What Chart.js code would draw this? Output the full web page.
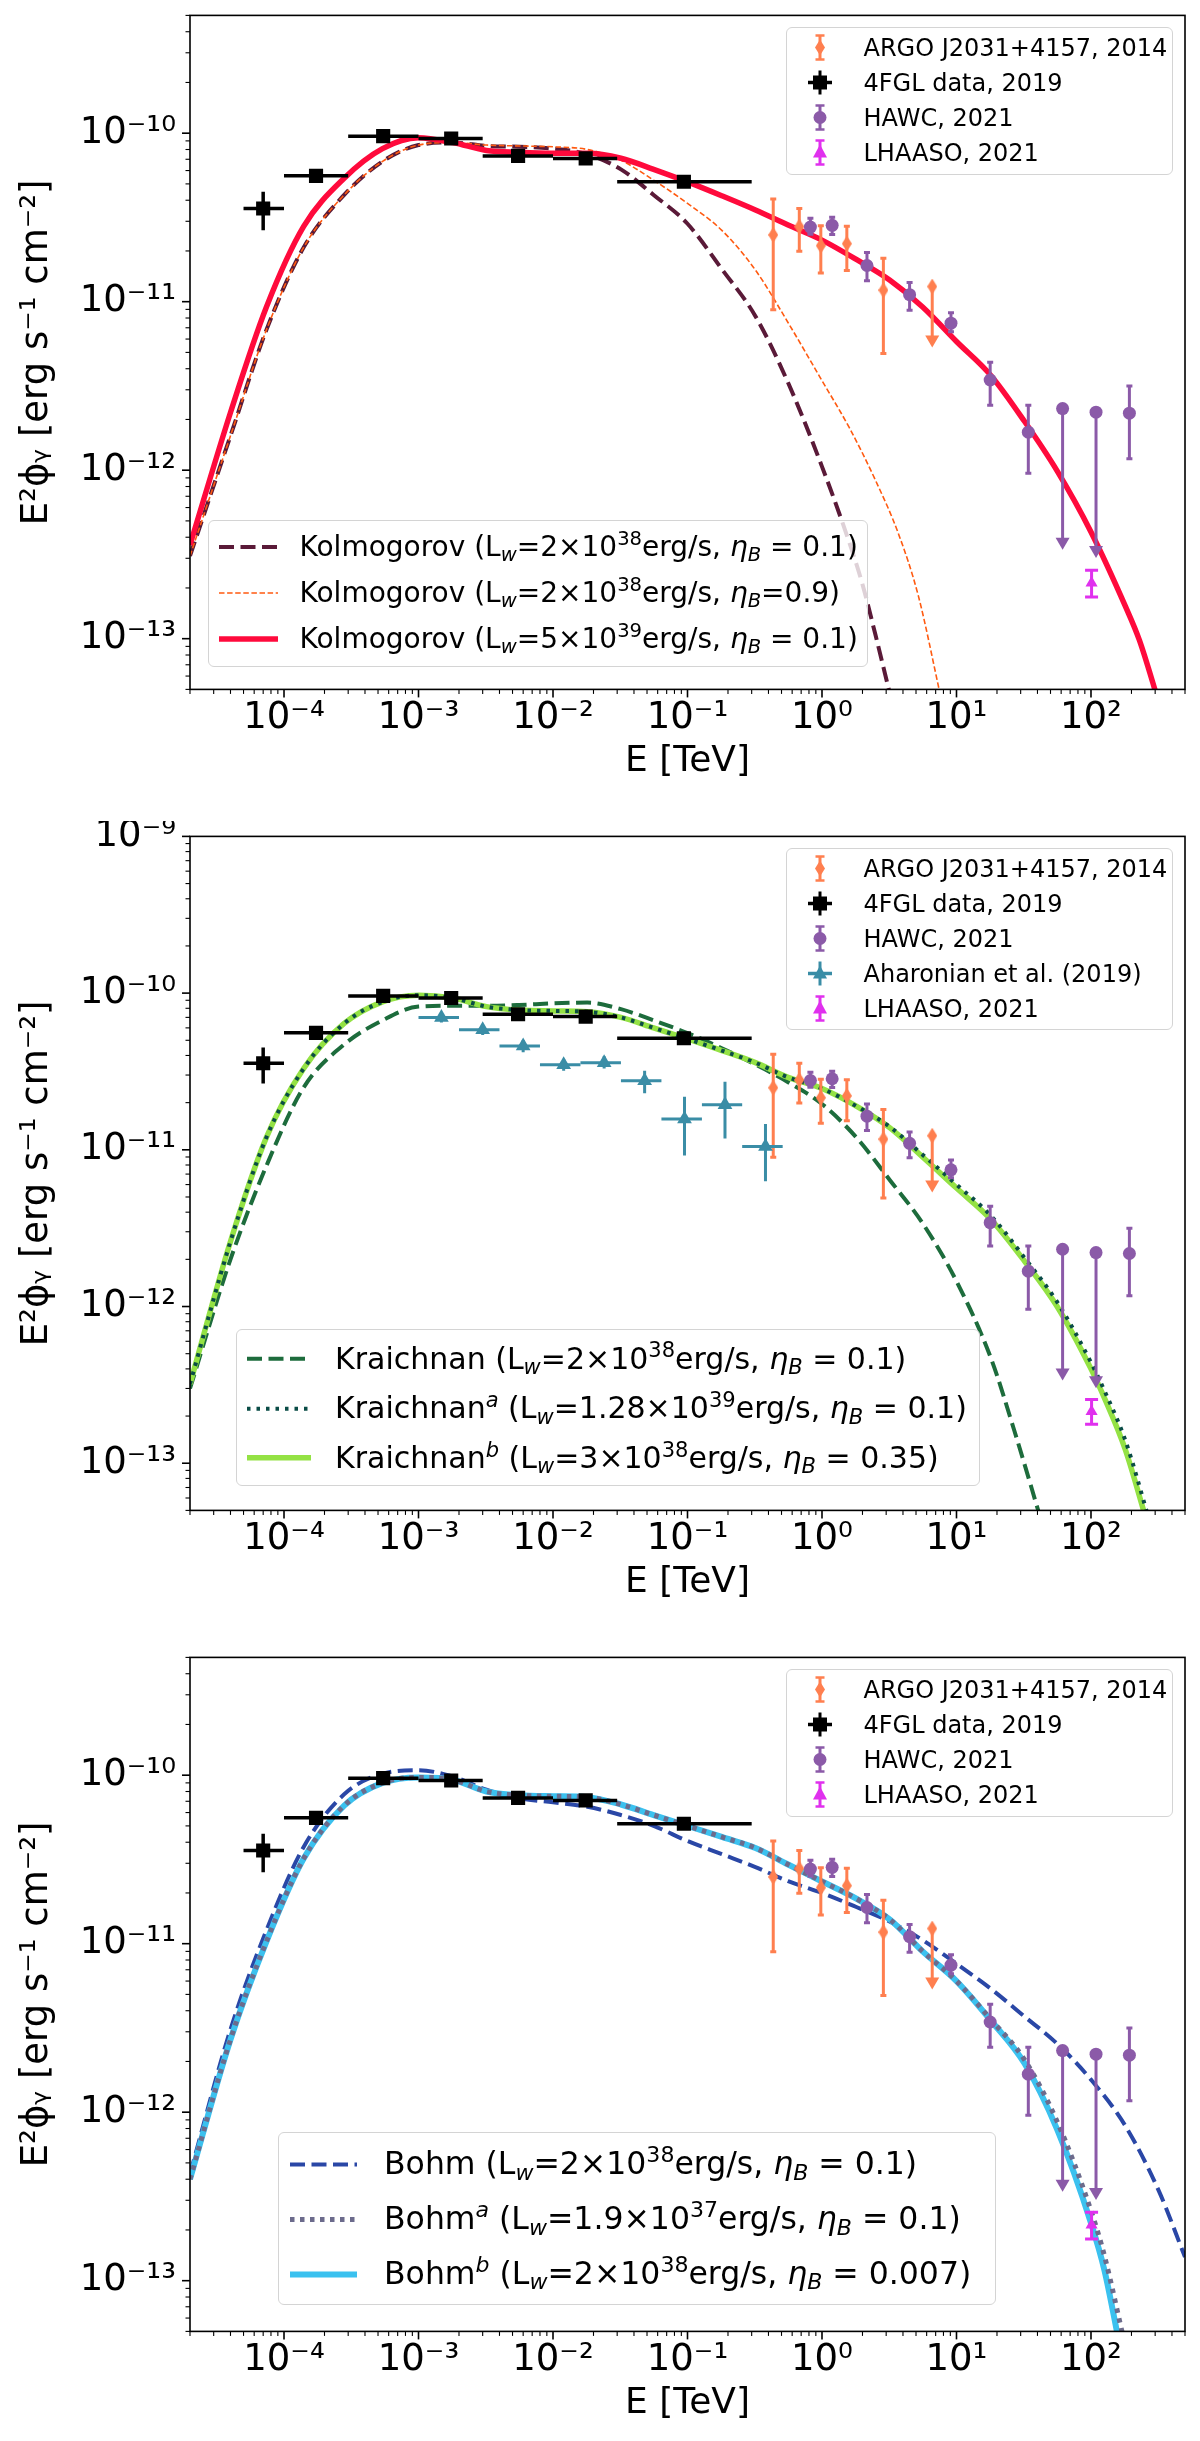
<!DOCTYPE html>
<html>
<head>
<meta charset="utf-8">
<script src="https://cdn.jsdelivr.net/npm/chart.js@4.4.1/dist/chart.umd.min.js"></script>
<style>
body { margin: 0; background: #fff; }
#fig { position: relative; width: 1200px; height: 2441px; overflow: hidden; background: #fff;
       font-family: 'DejaVu Sans', sans-serif; color: #000; }
.panel { position: absolute; left: 0; width: 1200px; height: 821px; }
.panel canvas { position: absolute; left: 0; top: 0; }
.leg { position: absolute; box-sizing: border-box; border: 1.5px solid #d4d4d4; border-radius: 6px;
       background: rgba(255,255,255,0.8); }
.row { position: absolute; left: 0; right: 0; }
.row svg { position: absolute; left: 0; top: 0; }
.row span { position: absolute; top: 50%; transform: translateY(-50%); white-space: nowrap; line-height: 1; }
sup, sub { font-size: 0.7em; line-height: 0; position: relative; vertical-align: baseline; }
sup { top: -0.55em; }
sub { top: 0.25em; }
</style>
</head>
<body>
<div id="fig">
  <div class="panel" id="p1" style="top:0px"><canvas id="c1" width="1200" height="821"></canvas></div>
  <div class="panel" id="p2" style="top:821px"><canvas id="c2" width="1200" height="821"></canvas></div>
  <div class="panel" id="p3" style="top:1642px"><canvas id="c3" width="1200" height="821"></canvas></div>
</div>
<script>
// ---- measured points (E in TeV, E^2 phi in erg s^-1 cm^-2) ----
const fglE   = [7.0e-5, 1.73e-4, 5.46e-4, 1.75e-3, 5.5e-3, 1.75e-2, 9.4e-2];
const fglElo = [5.0e-5, 1.0e-4, 3.0e-4, 1.0e-3, 3.0e-3, 1.0e-2, 3.0e-2];
const fglEhi = [1.0e-4, 3.0e-4, 1.0e-3, 3.0e-3, 1.0e-2, 3.0e-2, 3.0e-1];
const fglF   = [3.57e-11, 5.58e-11, 9.6e-11, 9.3e-11, 7.33e-11, 7.08e-11, 5.15e-11];
const fglFlo = [2.65e-11, 5.3e-11, 9.2e-11, 8.9e-11, 7.0e-11, 6.75e-11, 4.9e-11];
const fglFhi = [4.49e-11, 5.9e-11, 1.0e-10, 9.7e-11, 7.7e-11, 7.4e-11, 5.4e-11];

const argoE   = [0.434, 0.678, 0.98, 1.53, 2.86, 6.6];
const argoF   = [2.49e-11, 2.79e-11, 2.15e-11, 2.21e-11, 1.17e-11, 1.23e-11];
const argoFhi = [4.07e-11, 3.57e-11, 2.82e-11, 2.8e-11, 1.81e-11, 1.23e-11];
const argoFlo = [8.96e-12, 1.99e-11, 1.48e-11, 1.53e-11, 4.92e-12, 5.5e-12];
const argoUL  = [false, false, false, false, false, true];

const hawcE   = [0.82, 1.19, 2.16, 4.48, 9.1, 17.8, 34.2, 61.5, 109, 193];
const hawcF   = [2.77e-11, 2.84e-11, 1.64e-11, 1.1e-11, 7.45e-12, 3.43e-12, 1.68e-12, 2.32e-12, 2.21e-12, 2.18e-12];
const hawcFhi = [3.13e-11, 3.17e-11, 1.96e-11, 1.3e-11, 8.6e-12, 4.37e-12, 2.43e-12, 2.32e-12, 2.21e-12, 3.16e-12];
const hawcFlo = [2.51e-11, 2.5e-11, 1.33e-11, 8.9e-12, 6.64e-12, 2.43e-12, 9.6e-13, 3.47e-13, 3.1e-13, 1.17e-12];
const hawcUL  = [false, false, false, false, false, false, false, true, true, false];

const lhaE   = [101];
const lhaF   = [2.14e-13];
const lhaFhi = [2.55e-13];
const lhaFlo = [1.77e-13];

const ahaE   = [1.48e-3, 3.0e-3, 6.0e-3, 1.2e-2, 2.4e-2, 4.8e-2, 9.5e-2, 0.19, 0.38];
const ahaElo = [1.0e-3, 2.0e-3, 4.0e-3, 8.0e-3, 1.6e-2, 3.2e-2, 6.4e-2, 0.128, 0.255];
const ahaEhi = [2.0e-3, 4.0e-3, 8.0e-3, 1.6e-2, 3.2e-2, 6.4e-2, 0.128, 0.255, 0.51];
const ahaF   = [7.0e-11, 5.84e-11, 4.6e-11, 3.49e-11, 3.6e-11, 2.76e-11, 1.57e-11, 1.94e-11, 1.05e-11];
const ahaFhi = [7.5e-11, 6.3e-11, 5.0e-11, 3.8e-11, 3.95e-11, 3.2e-11, 2.18e-11, 2.72e-11, 1.46e-11];
const ahaFlo = [6.5e-11, 5.4e-11, 4.2e-11, 3.2e-11, 3.3e-11, 2.3e-11, 9.2e-12, 1.18e-11, 6.3e-12];

// ---- model curves ----
// Kolmogorov panel
const kolHiE = [2e-5, 4e-5, 7.4e-5, 1.4e-4, 2.8e-4, 5.4e-4, 1e-3, 1.8e-3, 3.2e-3, 5.6e-3, 1e-2, 1.8e-2, 3.2e-2, 5.6e-2,
                0.1, 0.18, 0.32, 0.56, 1, 1.8, 3.2, 5.6, 10, 18, 32, 56, 100, 180, 229, 316];
const kolHiF = [3.6e-13, 2.2e-12, 9.3e-12, 2.8e-11, 5.4e-11, 8.1e-11, 9.4e-11, 8.8e-11, 7.9e-11, 7.7e-11, 7.6e-11, 7.6e-11, 7.1e-11, 6.1e-11,
                5.14e-11, 4.25e-11, 3.5e-11, 2.85e-11, 2.32e-11, 1.78e-11, 1.34e-11, 9.3e-12, 5.8e-12, 3.65e-12, 1.95e-12, 9.9e-13, 4.3e-13, 1.56e-13, 9.8e-14, 4.3e-14];
const kolE = [2e-5, 4e-5, 7.4e-5, 1.4e-4, 2.8e-4, 5.4e-4, 1e-3, 1.8e-3, 3.2e-3, 5.6e-3, 1e-2, 1.8e-2, 3.2e-2, 5.6e-2,
              0.1, 0.18, 0.32, 0.56, 1, 1.6, 2.0, 2.5, 3.2];
const kolF = [3.1e-13, 1.6e-12, 6.8e-12, 2.1e-11, 4.3e-11, 6.8e-11, 8.5e-11, 8.8e-11, 8.4e-11, 8.3e-11, 8.1e-11, 7.5e-11, 6.1e-11, 4.3e-11,
              2.9e-11, 1.56e-11, 8.2e-12, 3.3e-12, 1.05e-12, 3.7e-13, 2.1e-13, 1.05e-13, 4.7e-14];
const kolEtaE = [2e-5, 4e-5, 7.4e-5, 1.4e-4, 2.8e-4, 5.4e-4, 1e-3, 1.8e-3, 3.2e-3, 5.6e-3, 1e-2, 1.8e-2, 3.2e-2, 5.6e-2,
                 0.1, 0.18, 0.32, 0.56, 1, 1.6, 2.5, 3.7, 5.2, 7.6];
const kolEtaF = [3.1e-13, 1.6e-12, 6.8e-12, 2.1e-11, 4.3e-11, 6.8e-11, 8.5e-11, 8.8e-11, 8.5e-11, 8.4e-11, 8.3e-11, 8.0e-11, 6.9e-11, 5.26e-11,
                 3.83e-11, 2.65e-11, 1.54e-11, 7.5e-12, 3.4e-12, 1.78e-12, 8.7e-13, 4.2e-13, 1.8e-13, 4.6e-14];

// Kraichnan panel
const kraE = [2e-5, 4e-5, 7.4e-5, 1.4e-4, 2.8e-4, 5.4e-4, 1e-3, 1.8e-3, 3.2e-3, 5.6e-3, 1e-2, 1.8e-2, 3.2e-2, 5.6e-2,
              0.1, 0.18, 0.32, 0.56, 1, 1.8, 3.2, 5.6, 10, 18, 27, 42];
const kraF = [3.0e-13, 2.0e-12, 7.9e-12, 2.5e-11, 4.7e-11, 6.7e-11, 8.2e-11, 8.3e-11, 8.3e-11, 8.4e-11, 8.6e-11, 8.7e-11, 7.9e-11, 6.7e-11,
              5.56e-11, 4.45e-11, 3.5e-11, 2.7e-11, 1.96e-11, 1.2e-11, 6.4e-12, 3.4e-12, 1.45e-12, 4.7e-13, 1.6e-13, 4.5e-14];
const kraAE = [2e-5, 4e-5, 7.4e-5, 1.4e-4, 2.8e-4, 5.4e-4, 1e-3, 1.8e-3, 3.2e-3, 5.6e-3, 1e-2, 1.8e-2, 3.2e-2, 5.6e-2,
               0.1, 0.18, 0.32, 0.56, 1, 1.8, 3.2, 5.6, 10, 18, 32, 56, 100, 126, 180, 270];
const kraAF = [3.2e-13, 2.6e-12, 1.2e-11, 3.3e-11, 6.4e-11, 8.8e-11, 9.7e-11, 9.3e-11, 8.2e-11, 7.8e-11, 7.7e-11, 7.6e-11, 7.0e-11, 6.0e-11,
               5.1e-11, 4.3e-11, 3.6e-11, 2.9e-11, 2.46e-11, 1.9e-11, 1.4e-11, 9.3e-12, 6.0e-12, 3.8e-12, 2.05e-12, 1.07e-12, 4.4e-13, 2.9e-13, 1.4e-13, 4.4e-14];
const kraBE = [2e-5, 4e-5, 7.4e-5, 1.4e-4, 2.8e-4, 5.4e-4, 1e-3, 1.8e-3, 3.2e-3, 5.6e-3, 1e-2, 1.8e-2, 3.2e-2, 5.6e-2,
               0.1, 0.18, 0.32, 0.56, 1, 1.8, 3.2, 5.6, 10, 18, 32, 56, 100, 126, 180, 255];
const kraBF = [3.2e-13, 2.6e-12, 1.2e-11, 3.3e-11, 6.4e-11, 8.8e-11, 9.7e-11, 9.3e-11, 8.2e-11, 7.8e-11, 7.7e-11, 7.6e-11, 7.0e-11, 6.0e-11,
               5.1e-11, 4.3e-11, 3.6e-11, 2.9e-11, 2.46e-11, 1.9e-11, 1.38e-11, 9.0e-12, 5.7e-12, 3.6e-12, 1.95e-12, 1.0e-12, 4.0e-13, 2.6e-13, 1.22e-13, 4.5e-14];

// Bohm panel
const bohmE = [2e-5, 4e-5, 7.4e-5, 1.4e-4, 2.8e-4, 5.4e-4, 1e-3, 1.8e-3, 3.2e-3, 5.6e-3, 1e-2, 1.8e-2, 3.2e-2, 5.6e-2,
               0.1, 0.18, 0.32, 0.56, 1, 1.8, 3.2, 5.6, 10, 18, 32, 56, 100, 180, 320, 500];
const bohmF = [4.3e-13, 3.1e-12, 1.2e-11, 3.75e-11, 7.7e-11, 1.02e-10, 1.07e-10, 9.8e-11, 8.2e-11, 7.3e-11, 6.9e-11, 6.5e-11, 5.8e-11, 5.0e-11,
               4.07e-11, 3.4e-11, 2.85e-11, 2.35e-11, 2.0e-11, 1.65e-11, 1.35e-11, 1.05e-11, 7.6e-12, 5.4e-12, 3.7e-12, 2.55e-12, 1.56e-12, 8.3e-13, 3.4e-13, 1.38e-13];
const bohmAE = [2e-5, 4e-5, 7.4e-5, 1.4e-4, 2.8e-4, 5.4e-4, 1e-3, 1.8e-3, 3.2e-3, 5.6e-3, 1e-2, 1.8e-2, 3.2e-2, 5.6e-2,
                0.1, 0.18, 0.32, 0.56, 1, 1.8, 3.2, 5.6, 10, 18, 32, 56, 100, 126, 175];
const bohmAF = [4.0e-13, 2.7e-12, 1.03e-11, 3.2e-11, 6.6e-11, 9.0e-11, 9.7e-11, 9.4e-11, 8.0e-11, 7.6e-11, 7.5e-11, 7.4e-11, 6.7e-11, 5.8e-11,
                5.0e-11, 4.3e-11, 3.7e-11, 2.95e-11, 2.34e-11, 1.85e-11, 1.39e-11, 9.0e-12, 6.0e-12, 3.55e-12, 2.05e-12, 8.8e-13, 2.6e-13, 1.4e-13, 4.5e-14];
const bohmBE = [2e-5, 4e-5, 7.4e-5, 1.4e-4, 2.8e-4, 5.4e-4, 1e-3, 1.8e-3, 3.2e-3, 5.6e-3, 1e-2, 1.8e-2, 3.2e-2, 5.6e-2,
                0.1, 0.18, 0.32, 0.56, 1, 1.8, 3.2, 5.6, 10, 18, 32, 56, 100, 126, 160];
const bohmBF = [4.0e-13, 2.7e-12, 1.03e-11, 3.2e-11, 6.6e-11, 9.0e-11, 9.7e-11, 9.4e-11, 8.0e-11, 7.6e-11, 7.5e-11, 7.4e-11, 6.7e-11, 5.8e-11,
                5.0e-11, 4.3e-11, 3.7e-11, 2.95e-11, 2.34e-11, 1.85e-11, 1.39e-11, 9.0e-12, 6.0e-12, 3.5e-12, 1.95e-12, 7.9e-13, 2.2e-13, 1.15e-13, 4.5e-14];

// axis ranges
const xRange = [2e-5, 500];
const yMin = 5e-14;
const yMaxTop = 5e-10, yMaxMid = 1e-9;

const C = {
  argo: '#ff7f4f', fgl: '#000000', hawc: '#8b5aa8', lha: '#e030ee', aha: '#3a8da6',
  red: '#ff0a3c', maroon: '#5a1a38', orange: '#ff5a10',
  dgreen: '#1d6c3c', teal: '#0a4c46', lgreen: '#94e244',
  blue: '#2a47a6', gray: '#6c6b8c', cyan: '#3bc1ef'
};

Chart.defaults.font.family = "'DejaVu Sans', sans-serif";
Chart.defaults.color = '#000';

const SUP = {'-': '\u207B', '0': '\u2070', '1': '\u00B9', '2': '\u00B2', '3': '\u00B3', '4': '\u2074',
             '5': '\u2075', '6': '\u2076', '7': '\u2077', '8': '\u2078', '9': '\u2079'};

function decadeLabel(v) {
  const p = Math.log10(v), r = Math.round(p);
  if (Math.abs(p - r) > 1e-6) return '';
  return '10' + String(r).split('').map(c => SUP[c]).join('');
}

// log ticks: 1..9 per decade, decades are major
function logTicks(scale) {
  const ticks = [];
  const lo = Math.floor(Math.log10(scale.min)), hi = Math.ceil(Math.log10(scale.max));
  for (let d = lo; d <= hi; d++) {
    for (let m = 1; m <= 9; m++) {
      const v = m * Math.pow(10, d);
      if (v >= scale.min * 0.999 && v <= scale.max * 1.001) ticks.push({value: v, major: m === 1});
    }
  }
  scale.ticks = ticks;
}

function pts(E, F) { return E.map((e, i) => ({x: e, y: F[i]})); }

// error bars, drawn under each dataset's markers
const errorBars = {
  id: 'errorBars',
  beforeDatasetDraw(chart, args) {
    const ds = chart.data.datasets[args.index];
    const e = ds.err;
    if (!e) return;
    const ctx = chart.ctx, xs = chart.scales.x, ys = chart.scales.y;
    ctx.save();
    ctx.strokeStyle = e.color;
    ctx.fillStyle = e.color;
    ctx.lineWidth = e.lw;
    ds.data.forEach((p, i) => {
      const px = xs.getPixelForValue(p.x), py = ys.getPixelForValue(p.y);
      const ul = e.ul && e.ul[i];
      const yl = ys.getPixelForValue(e.lo[i]);
      const yh = ys.getPixelForValue(e.hi[i]);
      ctx.beginPath();
      if (e.xlo) {
        ctx.moveTo(xs.getPixelForValue(e.xlo[i]), py);
        ctx.lineTo(xs.getPixelForValue(e.xhi[i]), py);
      }
      ctx.moveTo(px, yh);
      ctx.lineTo(px, ul ? yl - 6 : yl);
      if (e.cap && !ul) {
        ctx.moveTo(px - e.cap, yh); ctx.lineTo(px + e.cap, yh);
        ctx.moveTo(px - e.cap, yl); ctx.lineTo(px + e.cap, yl);
      }
      ctx.stroke();
      if (ul) {
        ctx.beginPath();
        ctx.moveTo(px - 7, yl - 10);
        ctx.lineTo(px + 7, yl - 10);
        ctx.lineTo(px, yl + 2);
        ctx.closePath();
        ctx.fill();
      }
    });
    ctx.restore();
  }
};

// axes frame + outward tick marks like matplotlib
const frame = {
  id: 'frame',
  afterDraw(chart) {
    const {ctx, chartArea: a, scales: {x, y}} = chart;
    ctx.save();
    ctx.strokeStyle = '#000';
    ctx.lineWidth = 1.6;
    ctx.strokeRect(a.left, a.top, a.right - a.left, a.bottom - a.top);
    x.ticks.forEach(t => {
      const px = x.getPixelForValue(t.value);
      ctx.lineWidth = t.major ? 1.6 : 1.1;
      ctx.beginPath(); ctx.moveTo(px, a.bottom); ctx.lineTo(px, a.bottom + (t.major ? 8 : 4.5)); ctx.stroke();
    });
    y.ticks.forEach(t => {
      const py = y.getPixelForValue(t.value);
      ctx.lineWidth = t.major ? 1.6 : 1.1;
      ctx.beginPath(); ctx.moveTo(a.left, py); ctx.lineTo(a.left - (t.major ? 8 : 4.5), py); ctx.stroke();
    });
    ctx.restore();
  }
};

function diamondImg(color, w, h) {
  const c = document.createElement('canvas');
  c.width = w; c.height = h;
  const g = c.getContext('2d');
  g.fillStyle = color;
  g.beginPath();
  g.moveTo(w / 2, 0); g.lineTo(w, h / 2); g.lineTo(w / 2, h); g.lineTo(0, h / 2);
  g.closePath(); g.fill();
  return c;
}

function dataSets(withAha) {
  const sets = [];
  sets.push({data: pts(lhaE, lhaF), pointStyle: 'triangle', pointRadius: 7, pointBorderWidth: 0,
             pointBackgroundColor: C.lha, order: 0,
             err: {lo: lhaFlo, hi: lhaFhi, cap: 6.5, lw: 3, color: C.lha}});
  sets.push({data: pts(hawcE, hawcF), pointStyle: 'circle', pointRadius: 6.5, pointBorderWidth: 0,
             pointBackgroundColor: C.hawc, order: 0,
             err: {lo: hawcFlo, hi: hawcFhi, ul: hawcUL, cap: 3, lw: 3, color: C.hawc}});
  if (withAha) {
    sets.push({data: pts(ahaE, ahaF), pointStyle: 'triangle', pointRadius: 8.5, pointBorderWidth: 0,
               pointBackgroundColor: C.aha, order: 0,
               err: {lo: ahaFlo, hi: ahaFhi, xlo: ahaElo, xhi: ahaEhi, cap: 0, lw: 3, color: C.aha}});
  }
  sets.push({data: pts(fglE, fglF), pointStyle: 'rect', pointRadius: 10, pointBorderWidth: 0,
             pointBackgroundColor: C.fgl, order: 0,
             err: {lo: fglFlo, hi: fglFhi, xlo: fglElo, xhi: fglEhi, cap: 0, lw: 3.5, color: C.fgl}});
  sets.push({data: pts(argoE, argoF), pointStyle: diamondImg(C.argo, 10, 16), pointRadius: 8, pointBorderWidth: 0,
             order: 0,
             err: {lo: argoFlo, hi: argoFhi, ul: argoUL, cap: 3, lw: 3, color: C.argo}});
  return sets;
}

function curve(E, F, color, width, dash) {
  return {data: pts(E, F), showLine: true, pointRadius: 0, borderColor: color, borderWidth: width,
          borderDash: dash || [], borderCapStyle: 'butt', cubicInterpolationMode: 'monotone',
          clip: 0, fill: false, order: 1};
}

function makeChart(id, yMax, sets) {
  return new Chart(document.getElementById(id), {
    type: 'scatter',
    data: {datasets: sets},
    options: {
      responsive: false, animation: false, devicePixelRatio: 1, events: [],
      layout: {padding: {top: 15.4, right: 15, bottom: 11.6, left: 0}},
      plugins: {legend: {display: false}, tooltip: {enabled: false}},
      scales: {
        x: {
          type: 'logarithmic', position: 'bottom', min: xRange[0], max: xRange[1],
          afterBuildTicks: logTicks,
          afterFit: s => { s.height = 120; s.paddingLeft = 0; s.paddingRight = 0; },
          grid: {display: false, drawTicks: false}, border: {display: false},
          ticks: {autoSkip: false, maxRotation: 0, minRotation: 0, padding: 7, color: '#000',
                  font: {size: 37}, callback: v => decadeLabel(v)},
          title: {display: true, text: 'E [TeV]', color: '#000', font: {size: 36},
                  padding: {top: 0, bottom: 26}}
        },
        y: {
          type: 'logarithmic', position: 'left', min: yMin, max: yMax,
          afterBuildTicks: logTicks,
          afterFit: s => { s.width = 190; s.paddingTop = 0; s.paddingBottom = 0; },
          grid: {display: false, drawTicks: false}, border: {display: false},
          ticks: {autoSkip: false, padding: 14, color: '#000', font: {size: 37},
                  callback: v => decadeLabel(v)},
          title: {display: true, text: 'E\u00B2\u03D5\u1D67 [erg s\u207B\u00B9 cm\u207B\u00B2]', color: '#000',
                  font: {size: 37}, padding: {top: 15, bottom: 0}}
        }
      }
    },
    plugins: [errorBars, frame]
  });
}

// ---- legends (HTML overlays) ----
function errSym(color, shape, cross) {
  return cy => {
    let s = `<line x1="33" y1="${cy - 12}" x2="33" y2="${cy + 12}" stroke="${color}" stroke-width="3"/>`;
    if (cross) s += `<line x1="21" y1="${cy}" x2="45" y2="${cy}" stroke="${color}" stroke-width="3.5"/>`;
    else s += `<line x1="28.5" y1="${cy - 12}" x2="37.5" y2="${cy - 12}" stroke="${color}" stroke-width="2.5"/>` +
              `<line x1="28.5" y1="${cy + 12}" x2="37.5" y2="${cy + 12}" stroke="${color}" stroke-width="2.5"/>`;
    if (shape === 'diamond') s += `<polygon points="33,${cy - 8} 38,${cy} 33,${cy + 8} 28,${cy}" fill="${color}"/>`;
    if (shape === 'square') s += `<rect x="26" y="${cy - 7}" width="14" height="14" fill="${color}"/>`;
    if (shape === 'circle') s += `<circle cx="33" cy="${cy}" r="6.5" fill="${color}"/>`;
    if (shape === 'triangle') s += `<polygon points="33,${cy - 8} 40,${cy + 5} 26,${cy + 5}" fill="${color}"/>`;
    return s;
  };
}

function lineSym(x1, x2, color, width, dash) {
  return cy => `<line x1="${x1}" y1="${cy}" x2="${x2}" y2="${cy}" stroke="${color}" stroke-width="${width}"` +
               (dash ? ` stroke-dasharray="${dash}"` : '') + `/>`;
}

function addLegend(panelId, box, rowH, first, textLeft, fontSize, rows) {
  const d = document.createElement('div');
  d.className = 'leg';
  Object.assign(d.style, {left: box[0] + 'px', top: box[1] + 'px', width: box[2] + 'px', height: box[3] + 'px'});
  rows.forEach((r, i) => {
    const row = document.createElement('div');
    row.className = 'row';
    const cy = first + i * rowH;
    row.style.top = (cy - rowH / 2) + 'px';
    row.style.height = rowH + 'px';
    row.innerHTML = `<svg width="${textLeft}" height="${rowH}">${r[0](rowH / 2)}</svg>` +
                    `<span style="left:${textLeft}px;font-size:${fontSize}px">${r[1]}</span>`;
    d.appendChild(row);
  });
  document.getElementById(panelId).appendChild(d);
}

const rowArgo = [errSym(C.argo, 'diamond'), 'ARGO J2031+4157, 2014'];
const rowFgl  = [errSym(C.fgl, 'square', true), '4FGL data, 2019'];
const rowHawc = [errSym(C.hawc, 'circle'), 'HAWC, 2021'];
const rowAha  = [errSym(C.aha, 'triangle', true), 'Aharonian et al. (2019)'];
const rowLha  = [errSym(C.lha, 'triangle'), 'LHAASO, 2021'];

const eta = v => `<i>η<sub>B</sub></i> = ${v}`;
const lw = '<sub><i>w</i></sub>';

// panel 1: Kolmogorov
makeChart('c1', yMaxTop, [
  ...dataSets(false),
  curve(kolHiE, kolHiF, C.red, 5.5),
  curve(kolEtaE, kolEtaF, C.orange, 1.6, [5.5, 2.6]),
  curve(kolE, kolF, C.maroon, 4, [15, 6.5])
]);
addLegend('p1', [786, 27, 387, 148], 35, 19.7, 76.5, 24, [rowArgo, rowFgl, rowHawc, rowLha]);
addLegend('p1', [208, 520, 660, 147], 46, 26, 90.5, 28, [
  [lineSym(10, 69, C.maroon, 4, '15 6.5'), `Kolmogorov (L${lw}=2×10<sup>38</sup>erg/s, ${eta('0.1')})`],
  [lineSym(10, 69, C.orange, 1.6, '5.5 2.6'), `Kolmogorov (L${lw}=2×10<sup>38</sup>erg/s, <i>η<sub>B</sub></i>=0.9)`],
  [lineSym(10, 69, C.red, 5.5), `Kolmogorov (L${lw}=5×10<sup>39</sup>erg/s, ${eta('0.1')})`]
]);

// panel 2: Kraichnan
makeChart('c2', yMaxMid, [
  ...dataSets(true),
  curve(kraAE, kraAF, C.teal, 4, [3.5, 6]),
  curve(kraBE, kraBF, C.lgreen, 5.5),
  curve(kraE, kraF, C.dgreen, 4, [15, 6.5])
]);
addLegend('p2', [786, 27, 387, 182], 35, 19.7, 76.5, 24, [rowArgo, rowFgl, rowHawc, rowAha, rowLha]);
addLegend('p2', [236, 508, 744, 157], 49.7, 28.8, 98, 30, [
  [lineSym(10, 74, C.dgreen, 4, '15 6.5'), `Kraichnan (L${lw}=2×10<sup>38</sup>erg/s, ${eta('0.1')})`],
  [lineSym(10, 74, C.teal, 4, '3.5 6'), `Kraichnan<sup><i>a</i></sup> (L${lw}=1.28×10<sup>39</sup>erg/s, ${eta('0.1')})`],
  [lineSym(10, 74, C.lgreen, 5.5), `Kraichnan<sup><i>b</i></sup> (L${lw}=3×10<sup>38</sup>erg/s, ${eta('0.35')})`]
]);

// panel 3: Bohm
makeChart('c3', yMaxTop, [
  ...dataSets(false),
  curve(bohmAE, bohmAF, C.gray, 5, [4.5, 5.5]),
  curve(bohmBE, bohmBF, C.cyan, 6),
  curve(bohmE, bohmF, C.blue, 4, [15, 6.5])
]);
addLegend('p3', [786, 27, 387, 148], 35, 19.7, 76.5, 24, [rowArgo, rowFgl, rowHawc, rowLha]);
addLegend('p3', [278, 490, 718, 173], 54.8, 31.4, 105, 31.5, [
  [lineSym(11, 78, C.blue, 4, '15 6.5'), `Bohm (L${lw}=2×10<sup>38</sup>erg/s, ${eta('0.1')})`],
  [lineSym(11, 78, C.gray, 5, '4.5 5.5'), `Bohm<sup><i>a</i></sup> (L${lw}=1.9×10<sup>37</sup>erg/s, ${eta('0.1')})`],
  [lineSym(11, 78, C.cyan, 6), `Bohm<sup><i>b</i></sup> (L${lw}=2×10<sup>38</sup>erg/s, ${eta('0.007')})`]
]);
</script>
</body>
</html>
